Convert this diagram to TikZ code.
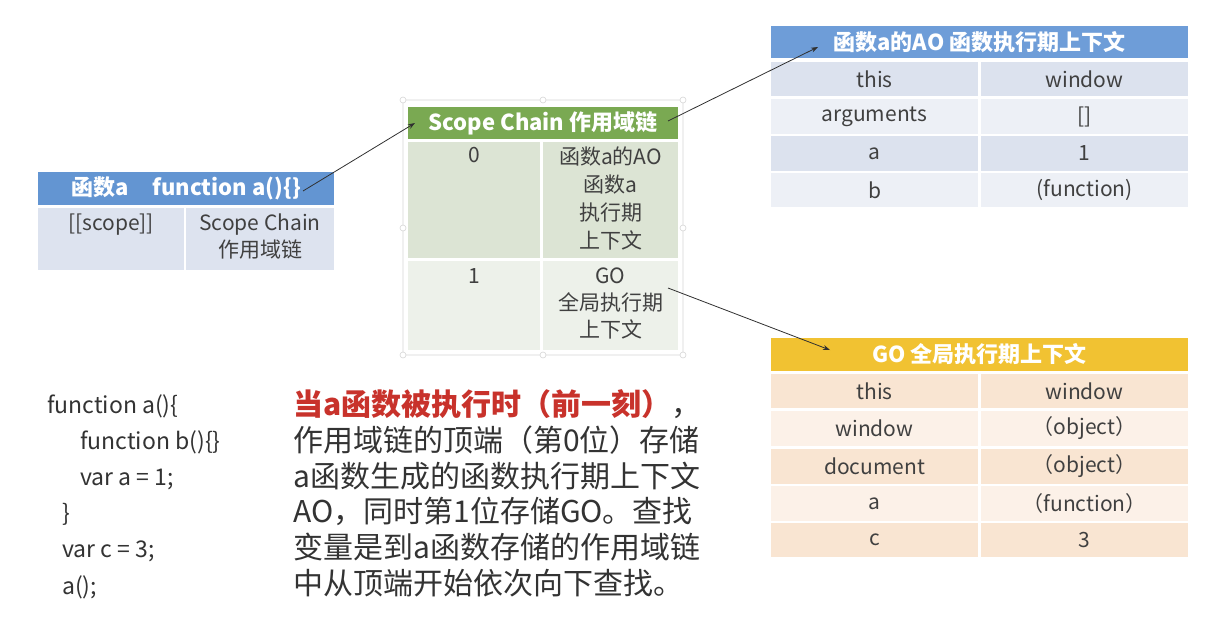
\documentclass[tikz,border=0pt]{standalone}
\usepackage{fontspec}
\setmainfont{Noto Sans CJK SC}
\usetikzlibrary{arrows.meta}
\definecolor{txtgray}{HTML}{404040}
\definecolor{hblueA}{HTML}{6395D2}
\definecolor{hblueB}{HTML}{6E9DD8}
\definecolor{rowA}{HTML}{DDE3EF}
\definecolor{rowAO1}{HTML}{DCE2EE}
\definecolor{rowAO2}{HTML}{EDF0F6}
\definecolor{hgreen}{HTML}{7AA952}
\definecolor{rowSC0}{HTML}{DCE4D4}
\definecolor{rowSC1}{HTML}{EDF1EA}
\definecolor{hgold}{HTML}{F1C232}
\definecolor{rowGO1}{HTML}{F9E5D2}
\definecolor{rowGO2}{HTML}{FCF1E8}
\definecolor{redtxt}{HTML}{C8322B}
\definecolor{framegray}{HTML}{D6D6D6}
\definecolor{arrowgray}{HTML}{303030}
\newcommand\tcell[7]{%
  \node[cellbox, fill=#6, minimum width={(#4-#2)*1pt}, minimum height={(#5-#3)*1pt}]
    (#1) at ({(#2+#4)/2},{(#3+#5)/2}) {#7};}
\begin{document}
\begin{tikzpicture}[x=1pt,y=-1pt,
  cellbox/.style={inner sep=0pt, outer sep=0pt, draw=none, align=center,
    font=\fontsize{21}{27}\selectfont, text=txtgray},
  headtxt/.style={font=\fontsize{22}{26}\selectfont\bfseries, text=white},
  tabtxt/.style={font=\fontsize{21}{27}\selectfont, text=txtgray, align=center, inner sep=0pt},
  codetxt/.style={font=\fontsize{23}{30}\selectfont, text=txtgray!80!black, anchor=base west, inner sep=0pt},
  paratxt/.style={font=\fontsize{30}{36}\selectfont, text=txtgray!80!black, anchor=base west, inner sep=0pt},
  conn/.style={draw=arrowgray, line width=0.8pt, -{Stealth[length=7pt,width=5pt]}},
  handle/.style={circle, draw=framegray, fill=white, inner sep=0pt, minimum size=6pt, line width=0.6pt}
]
\useasboundingbox[fill=white] (0,0) rectangle (1232,632);

% ---------- Table: function a ----------
\tcell{ah}{38}{172}{334}{205}{hblueA}{}
\node[headtxt] (ahtxt) at (ah.center) {函数a\hspace{1.1em}function a()\{\}};
\tcell{a1}{38}{208}{184}{270}{rowA}{}
\tcell{a2}{186}{208}{334}{270}{rowA}{}
\node[tabtxt, anchor=north] (a1t) at ([yshift=-6pt]a1.north) {[[scope]]};
\node[tabtxt, anchor=north] (a2t) at ([yshift=-6pt]a2.north) {Scope Chain\\作用域链};

% ---------- Scope chain ----------
\draw[framegray, rounded corners=3pt, line width=0.8pt] (403,100) rectangle (683,355);
\foreach \hx/\hy [count=\i] in {403/100,543/100,683/100,403/228,683/228,403/355,543/355,683/355}
  \node[handle] (hd\i) at (\hx,\hy) {};
\tcell{sch}{408}{107}{678}{139}{hgreen}{}
\node[headtxt] (schtxt) at (sch.center) {Scope Chain 作用域链};
\tcell{s00}{408}{142}{540}{258}{rowSC0}{}
\tcell{s01}{543}{142}{678}{258}{rowSC0}{}
\tcell{s10}{408}{261}{540}{350}{rowSC1}{}
\tcell{s11}{543}{261}{678}{350}{rowSC1}{}
\node[tabtxt, anchor=north] (s00t) at ([yshift=-5pt]s00.north) {0};
\node[tabtxt, anchor=north, font=\fontsize{21}{28}\selectfont] (s01t) at ([yshift=-5pt]s01.north) {函数a的AO\\函数a\\执行期\\上下文};
\node[tabtxt, anchor=north] (s10t) at ([yshift=-7pt]s10.north) {1};
\node[tabtxt, anchor=north] (s11t) at ([yshift=-7pt]s11.north) {GO\\全局执行期\\上下文};

% ---------- AO table ----------
\tcell{aoh}{771}{26}{1188}{58}{hblueB}{}
\node[headtxt] (aohtxt) at (aoh.center) {函数a的AO 函数执行期上下文};
\tcell{ao11}{771}{62}{978}{96}{rowAO1}{this}
\tcell{ao12}{981}{62}{1188}{96}{rowAO1}{window}
\tcell{ao21}{771}{99}{978}{134}{rowAO2}{arguments}
\tcell{ao22}{981}{99}{1188}{134}{rowAO2}{[]}
\tcell{ao31}{771}{136}{978}{171}{rowAO1}{a}
\tcell{ao32}{981}{136}{1188}{171}{rowAO1}{1}
\tcell{ao41}{771}{173}{978}{207}{rowAO2}{b}
\tcell{ao42}{981}{173}{1188}{207}{rowAO2}{(function)}

% ---------- GO table ----------
\tcell{goh}{771}{338}{1188}{371}{hgold}{}
\node[headtxt] (gohtxt) at (goh.center) {GO 全局执行期上下文};
\tcell{go11}{771}{374}{978}{408}{rowGO1}{this}
\tcell{go12}{981}{374}{1188}{408}{rowGO1}{window}
\tcell{go21}{771}{411}{978}{446}{rowGO2}{window}
\tcell{go22}{981}{411}{1188}{446}{rowGO2}{（object）}
\tcell{go31}{771}{449}{978}{484}{rowGO1}{document}
\tcell{go32}{981}{449}{1188}{484}{rowGO1}{（object）}
\tcell{go41}{771}{486}{978}{521}{rowGO2}{a}
\tcell{go42}{981}{486}{1188}{521}{rowGO2}{（function）}
\tcell{go51}{771}{523}{978}{557}{rowGO1}{c}
\tcell{go52}{981}{523}{1188}{557}{rowGO1}{3}

% ---------- connectors ----------
\coordinate (p1) at (303,191);
\coordinate (p2) at (415,123);
\coordinate (p3) at (668,121);
\coordinate (p4) at (818,47);
\coordinate (p5) at (668,288);
\coordinate (p6) at (830,350);
\draw[conn] (p1) -- (p2);
\draw[conn] (p3) -- (p4);
\draw[conn] (p5) -- (p6);

% ---------- code ----------
\node[codetxt] (c1) at (47,413) {function a()\{};
\node[codetxt] (c2) at (80,449) {function b()\{\}};
\node[codetxt] (c3) at (80,485) {var a = 1;};
\node[codetxt] (c4) at (62,521) {\}};
\node[codetxt] (c5) at (62,557) {var c = 3;};
\node[codetxt] (c6) at (62,594) {a();};

% ---------- paragraph ----------
\node[paratxt] (t1) at (293,415) {\textcolor{redtxt}{\bfseries 当a函数被执行时（前一刻）}，};
\node[paratxt] (t2) at (293,451) {作用域链的顶端（第0位）存储};
\node[paratxt] (t3) at (293,487) {a函数生成的函数执行期上下文};
\node[paratxt] (t4) at (293,522) {AO，同时第1位存储GO。查找};
\node[paratxt] (t5) at (293,558) {变量是到a函数存储的作用域链};
\node[paratxt] (t6) at (293,594) {中从顶端开始依次向下查找。};
\end{tikzpicture}
\end{document}
